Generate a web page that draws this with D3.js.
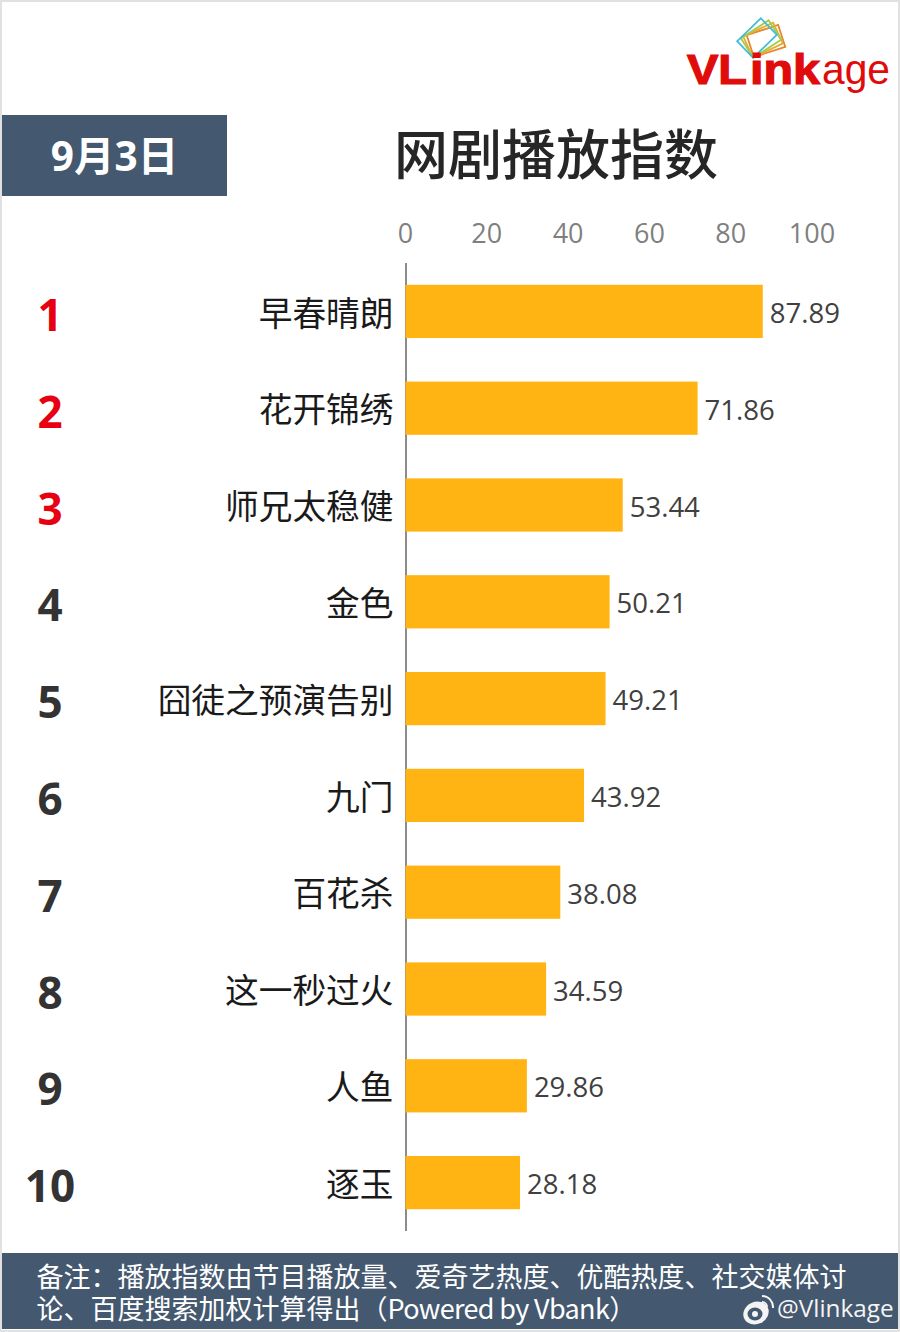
<!DOCTYPE html>
<html>
<head>
<meta charset="utf-8">
<style>
html, body { margin: 0; padding: 0; background: #fff; }
svg { display: block; }
text { font-family: "Open Sans", "Noto Sans CJK SC", sans-serif; }
.cjk { font-family: "Noto Sans CJK SC", sans-serif; }
</style>
</head>
<body>
<svg width="900" height="1332"></svg>
<script src="https://d3js.org/d3.v7.min.js"></script>
<script>

var shows = ["早春晴朗", "花开锦绣", "师兄太稳健", "金色", "囧徒之预演告别", "九门", "百花杀", "这一秒过火", "人鱼", "逐玉"];
var ranks = ["1", "2", "3", "4", "5", "6", "7", "8", "9", "10"];
var values = [87.89, 71.86, 53.44, 50.21, 49.21, 43.92, 38.08, 34.59, 29.86, 28.18];
var xTicks = [0, 20, 40, 60, 80, 100];
var dateLabel = "9月3日";
var title = "网剧播放指数";
var noteLine1 = "备注：播放指数由节目播放量、爱奇艺热度、优酷热度、社交媒体讨";
var noteLine2 = "论、百度搜索加权计算得出（";
var noteLatin = "Powered by Vbank";
var noteEnd = "）";

var svg = d3.select("svg");

// page frame
svg.append("rect").attr("width", 900).attr("height", 1332).attr("fill", "#e1e1e1");
svg.append("rect").attr("x", 2).attr("y", 2).attr("width", 896).attr("height", 1328).attr("fill", "#fff");

// header
svg.append("rect").attr("x", 2).attr("y", 115).attr("width", 225).attr("height", 81).attr("fill", "#44586f");
svg.append("text").attr("x", 114.5).attr("y", 171).attr("text-anchor", "middle")
    .attr("fill", "#fff").attr("font-size", 40.5).attr("font-weight", 700).text(dateLabel);
svg.append("text").attr("class", "cjk").attr("x", 556).attr("y", 175).attr("text-anchor", "middle")
    .attr("fill", "#262626").attr("font-size", 54).attr("font-weight", 500).text(title);

// logo
var logo = svg.append("g").attr("fill", "none").attr("stroke-width", 1.8);
[["#e8862e", 766, 41, -18], ["#e0b030", 763, 40, -25], ["#a9c94a", 761, 39, -33], ["#45bcd6", 757, 38, -44]].forEach(function(c) {
  logo.append("rect").attr("x", -16.5).attr("y", -11.5).attr("width", 33).attr("height", 23)
      .attr("stroke", c[0])
      .attr("transform", "translate(" + c[1] + "," + c[2] + ") rotate(" + c[3] + ")");
});
[["VL", 687, 60, 700], ["ink", 750, 70, 700], ["age", 822, 68, 400]].forEach(function(p) {
  svg.append("text").attr("x", p[1]).attr("y", 84)
      .attr("textLength", p[2]).attr("lengthAdjust", "spacingAndGlyphs")
      .attr("fill", "#e00b0b").attr("font-size", 42).attr("font-weight", p[3])
      .attr("stroke", p[3] == 700 ? "#e00b0b" : "none").attr("stroke-width", 1.2)
      .style("font-family", "'Liberation Sans', sans-serif")
      .text(p[0]);
});

// chart
var x = d3.scaleLinear().domain([0, 100]).range([405.5, 812]);
var y = d3.scaleBand().domain(shows).range([263, 1231]).paddingInner(0.45).paddingOuter(0.225);

var axisTop = d3.axisTop(x).tickValues(xTicks).tickSize(0).tickPadding(0);
var gx = svg.append("g").attr("transform", "translate(-0.5,243)").call(axisTop);
gx.select(".domain").remove();
gx.selectAll("text").attr("fill", "#7f7f7f").attr("font-size", 27)
    .style("font-family", "'Open Sans', sans-serif");

var axisLeft = d3.axisLeft(y).tickSize(0).tickPadding(12.5).offset(0);
var gy = svg.append("g").attr("transform", "translate(406,0)").call(axisLeft);
gy.select(".domain").attr("stroke", "#8c8c8c").attr("stroke-width", 2);
gy.selectAll("text").attr("class", "cjk").attr("fill", "#1a1a1a").attr("font-size", 33.7)
    .attr("dy", "0.42em");

svg.selectAll("rect.bar").data(values).enter().append("rect")
    .attr("class", "bar")
    .attr("x", x(0))
    .attr("y", function(d, i) { return y(shows[i]); })
    .attr("width", function(d) { return x(d) - x(0); })
    .attr("height", y.bandwidth())
    .attr("fill", "#ffb414");

svg.selectAll("text.value").data(values).enter().append("text")
    .attr("class", "value")
    .attr("x", function(d) { return x(d) + 7; })
    .attr("y", function(d, i) { return y(shows[i]) + y.bandwidth() / 2 + 11.5; })
    .attr("fill", "#404040").attr("font-size", 27.5)
    .text(function(d) { return d3.format(".2f")(d); });

svg.selectAll("text.rank").data(ranks).enter().append("text")
    .attr("class", "rank")
    .attr("x", 50)
    .attr("y", function(d, i) { return y(shows[i]) + y.bandwidth() / 2 + 19.5; })
    .attr("text-anchor", "middle")
    .attr("fill", function(d, i) { return i < 3 ? "#e60012" : "#333"; })
    .attr("font-size", 44).attr("font-weight", 700)
    .text(function(d) { return d; });

// footer
svg.append("rect").attr("x", 2).attr("y", 1253).attr("width", 896).attr("height", 76).attr("fill", "#44586f");
svg.append("text").attr("class", "cjk").attr("fill", "#fff").attr("font-size", 27)
    .attr("x", 36.5).attr("y", 1287).text(noteLine1);
var note = svg.append("text").attr("class", "cjk").attr("fill", "#fff").attr("font-size", 27)
    .attr("x", 36.5).attr("y", 1319);
note.append("tspan").text(noteLine2);
note.append("tspan").attr("letter-spacing", -0.65).text(noteLatin);
note.append("tspan").text(noteEnd);

// weibo watermark
var wb = svg.append("g").attr("transform", "translate(756,1313)");
wb.append("ellipse").attr("rx", 13).attr("ry", 11).attr("fill", "#f4f4f4").attr("transform", "rotate(-25)");
wb.append("ellipse").attr("rx", 7.5).attr("ry", 6.5).attr("cx", -1).attr("cy", 1).attr("fill", "#44586f");
wb.append("circle").attr("r", 3).attr("cx", -1).attr("cy", 1).attr("fill", "#f4f4f4");
wb.append("path").attr("d", "M6,-17 A11,11 0 0 1 17,-5 M6,-11 A5,5 0 0 1 11,-6")
    .attr("fill", "none").attr("stroke", "#f4f4f4").attr("stroke-width", 2);
svg.append("text").attr("x", 777).attr("y", 1317).attr("fill", "#f4f4f4").attr("font-size", 24.3)
    .style("font-family", "'Open Sans', sans-serif").text("@Vlinkage");

</script>
</body>
</html>
